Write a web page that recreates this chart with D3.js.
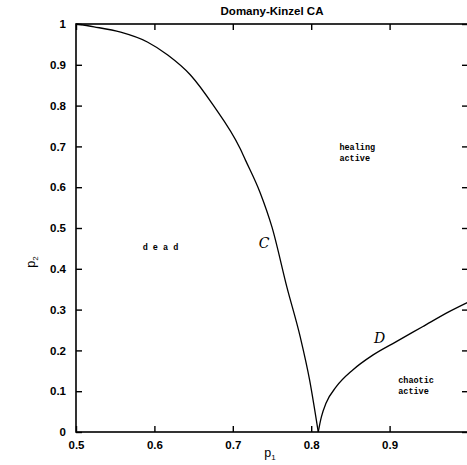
<!DOCTYPE html>
<html>
<head>
<meta charset="utf-8">
<script src="https://cdn.jsdelivr.net/npm/d3@7"></script>
<style>
  body { margin: 0; background: #fff; }
  svg text { font-family: "Liberation Sans", Arial, sans-serif; }
</style>
</head>
<body>
<svg id="chart" width="467" height="465"></svg>
<script>
// phase boundaries: [p1, p2]
const curveC = [
  [0.500, 1.000], [0.523, 0.993], [0.557, 0.980], [0.591, 0.956],
  [0.617, 0.924], [0.646, 0.875], [0.675, 0.801], [0.709, 0.696],
  [0.716, 0.667], [0.735, 0.586], [0.750, 0.502], [0.769, 0.355],
  [0.786, 0.233], [0.798, 0.127], [0.808, 0.012], [0.809, 0.000]
];
const curveD = [
  [0.809, 0.000], [0.811, 0.020], [0.813, 0.037], [0.819, 0.071],
  [0.832, 0.111], [0.853, 0.152], [0.879, 0.189], [0.908, 0.221],
  [0.942, 0.258], [0.976, 0.295], [1.000, 0.318]
];
const xTicks = [0.5, 0.6, 0.7, 0.8, 0.9, 1.0];
const yTicks = [0, 0.1, 0.2, 0.3, 0.4, 0.5, 0.6, 0.7, 0.8, 0.9, 1];
const xTickLabels = ["0.5", "0.6", "0.7", "0.8", "0.9", ""];
const yTickLabels = ["0", "0.1", "0.2", "0.3", "0.4", "0.5", "0.6", "0.7", "0.8", "0.9", "1"];
const regionLabels = [
  { lines: ["d e a d"], p1: 0.585, p2: 0.445 },
  { lines: ["healing", "active"], p1: 0.836, p2: 0.690 },
  { lines: ["chaotic", "active"], p1: 0.911, p2: 0.120 }
];
const curveLabels = [
  { text: "C", p1: 0.733, p2: 0.452 },
  { text: "D", p1: 0.880, p2: 0.217 }
];

const svg = d3.select("#chart");
const x = d3.scaleLinear().domain([0.5, 1.0]).range([76, 468]);
const y = d3.scaleLinear().domain([0, 1]).range([432, 24]);

// frame
svg.append("rect")
  .attr("x", x(0.5)).attr("y", y(1))
  .attr("width", x(1) - x(0.5)).attr("height", y(0) - y(1))
  .attr("fill", "none").attr("stroke", "#000").attr("stroke-width", 1.6);

// inward ticks on all four sides
const tk = 6;
svg.append("g").attr("transform", `translate(0,${y(0)})`)
  .call(d3.axisBottom(x).tickValues(xTicks).tickSize(-tk).tickFormat((d, i) => xTickLabels[i]).tickPadding(9))
  .call(g => g.select(".domain").remove());
svg.append("g").attr("transform", `translate(0,${y(1)})`)
  .call(d3.axisTop(x).tickValues(xTicks).tickSize(-tk).tickFormat(""))
  .call(g => g.select(".domain").remove());
svg.append("g").attr("transform", `translate(${x(0.5)},0)`)
  .call(d3.axisLeft(y).tickValues(yTicks).tickSize(-tk).tickFormat((d, i) => yTickLabels[i]).tickPadding(10))
  .call(g => g.select(".domain").remove());
svg.append("g").attr("transform", `translate(${x(1)},0)`)
  .call(d3.axisRight(y).tickValues(yTicks).tickSize(-tk).tickFormat(""))
  .call(g => g.select(".domain").remove());

svg.selectAll(".tick line").attr("stroke", "#000").attr("stroke-width", 1.4);
svg.selectAll(".tick text")
  .attr("fill", "#000")
  .style("font-family", "'Liberation Sans', Arial, sans-serif")
  .style("font-size", "11.5px")
  .style("font-weight", "bold");

// title
svg.append("text")
  .attr("x", 272).attr("y", 15)
  .attr("text-anchor", "middle")
  .style("font-size", "11.5px").style("font-weight", "bold")
  .text("Domany-Kinzel CA");

// axis titles
const xl = svg.append("text")
  .attr("x", 270).attr("y", 457)
  .attr("text-anchor", "middle")
  .style("font-size", "12.5px");
xl.append("tspan").text("p");
xl.append("tspan").attr("dy", 3).style("font-size", "8px").text("1");

const yl = svg.append("text")
  .attr("transform", "translate(35,262) rotate(-90)")
  .attr("text-anchor", "middle")
  .style("font-size", "12.5px");
yl.append("tspan").text("p");
yl.append("tspan").attr("dy", 3).style("font-size", "8px").text("2");

// curves
const line = d3.line()
  .x(d => x(d[0]))
  .y(d => y(d[1]))
  .curve(d3.curveMonotoneX);

[curveC, curveD].forEach(c => {
  svg.append("path")
    .datum(c)
    .attr("fill", "none")
    .attr("stroke", "#000")
    .attr("stroke-width", 1.3)
    .attr("d", line);
});

// region labels
regionLabels.forEach(r => {
  const t = svg.append("text")
    .attr("x", x(r.p1)).attr("y", y(r.p2))
    .style("font-family", "'Liberation Mono', 'DejaVu Sans Mono', monospace")
    .style("font-size", "8.5px").style("font-weight", "bold");
  r.lines.forEach((l, i) => {
    t.append("tspan").attr("x", x(r.p1)).attr("dy", i === 0 ? 0 : 11).text(l);
  });
});

// curve labels
curveLabels.forEach(c => {
  svg.append("text")
    .attr("x", x(c.p1)).attr("y", y(c.p2))
    .style("font-family", "'DejaVu Serif', 'Liberation Serif', serif")
    .style("font-style", "italic")
    .style("font-size", "14px")
    .text(c.text);
});
</script>
</body>
</html>
